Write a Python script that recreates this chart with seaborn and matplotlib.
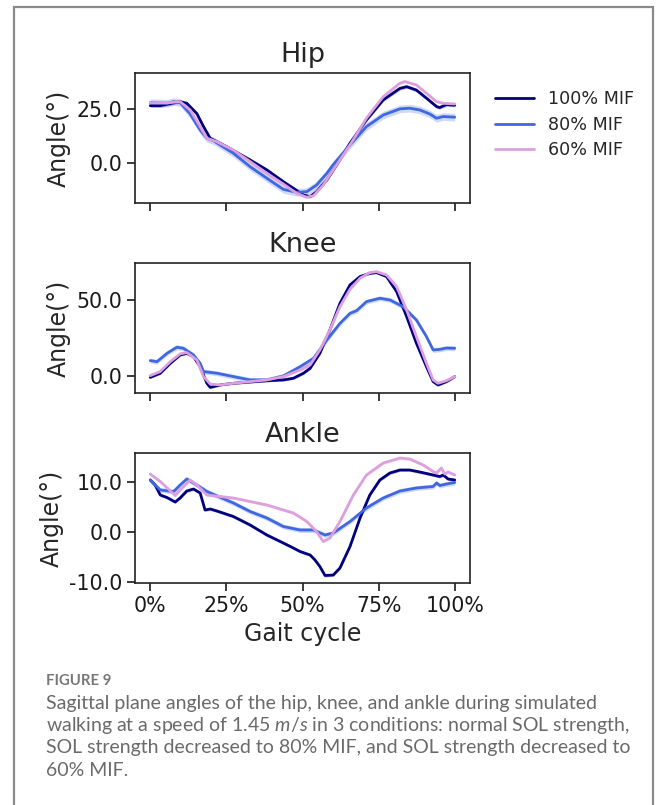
import numpy as np
import pandas as pd
import seaborn as sns
import matplotlib
matplotlib.use("Agg")
import matplotlib.pyplot as plt
from matplotlib.patches import Rectangle

# ---------------- data ----------------
conditions = ["100% MIF", "80% MIF", "60% MIF"]
joints = ["Hip", "Knee", "Ankle"]

# Hip
hip_100_x = [0, 3.3, 7.7, 9.8, 12, 15.3, 17.5, 19.7, 25.1, 32.8, 38.3, 43.7, 47, 50.3, 52.5, 54.6, 58, 61.2, 65.6, 71, 76.5, 82, 84.2, 87.4, 90.7, 94, 95, 97.3, 100]
hip_100_y = [26.7, 26.7, 28, 28.6, 27.8, 23, 16.9, 11.4, 7.5, 1.25, -3.4, -8.9, -12, -15.2, -15.9, -13.6, -8.1, -1.1, 9.1, 20, 29.4, 34.8, 35.6, 34, 30.2, 26.3, 25.8, 27.2, 26.9]
hip_80_x = [0, 5.5, 7.7, 9.8, 13, 16.4, 18.6, 20.8, 27.3, 32.8, 38.3, 43.7, 48.1, 51.4, 54.6, 58, 60, 65.6, 71, 76.5, 82, 85.2, 88.5, 91.8, 94, 96.2, 100]
hip_80_y = [28.1, 27.8, 28.6, 28.1, 23, 15.3, 11.4, 10.2, 4.4, -1.9, -7.3, -12.5, -13.9, -13.6, -10.5, -5, -1.1, 8.3, 16.9, 22.3, 25.2, 25.5, 24.7, 22.8, 20.8, 21.6, 21.3]
hip_60_x = [0, 5.5, 9.8, 13.1, 16.4, 18.6, 21.9, 27.3, 32.8, 38.3, 43.7, 48.1, 51.4, 53.6, 56.8, 60.1, 65.6, 71, 76.5, 82, 83.6, 87.4, 90.7, 94, 96.2, 100]
hip_60_y = [28, 28, 28.6, 24.7, 16.9, 11.4, 9.8, 5.9, 0.5, -5, -10, -14.4, -16.2, -15.5, -10.5, -3.4, 8.3, 20.8, 30.9, 37.2, 38, 36.4, 32.5, 28.6, 27.8, 27.5]

# Knee
knee_100_x = [0, 3.3, 6.6, 9.8, 12, 14.2, 16.4, 18.6, 19.7, 23, 27.3, 38.3, 43.7, 47, 50.3, 52.5, 55.7, 59, 62.3, 65.6, 68.9, 72.1, 74.3, 77.6, 80.9, 84.2, 87.4, 90.7, 92.9, 94.5, 97.3, 100]
knee_100_y = [-0.9, 1.8, 8.3, 13.8, 14.9, 12.7, 6.1, -4.8, -7.5, -5.9, -4.8, -3.1, -2.6, -1.5, 1.8, 5, 14.9, 30.3, 47.8, 59.9, 65.4, 67.5, 68, 65.4, 55.5, 39, 21.5, 6.1, -3.7, -5.9, -3.7, -0.4]
knee_80_x = [0, 2.2, 5.5, 8.7, 10.9, 14.2, 16.4, 17.5, 21.9, 27.3, 32.8, 38.3, 43.7, 49.2, 53.6, 58, 62.3, 65.6, 67.8, 71, 75.4, 78.7, 83, 87.4, 90.7, 92.9, 95.1, 97.3, 100]
knee_80_y = [10.1, 9.4, 14.9, 18.9, 18.2, 13.8, 8.3, 2.9, 1.8, -0.4, -2.6, -2.6, 0, 6.1, 11.6, 23.7, 34.6, 41.2, 43, 48.9, 51.1, 50, 45.6, 36.8, 25.9, 17.1, 17.5, 18.4, 18.2]
knee_60_x = [0, 3.3, 6.6, 9.8, 12, 15.3, 17.5, 19.7, 23, 27.3, 38.3, 43.7, 49.2, 52.5, 55.7, 59, 62.3, 65.6, 68.9, 72.1, 74.3, 77.6, 80.9, 84.2, 87.4, 90.7, 92.9, 94.5, 97.3, 100]
knee_60_y = [0.2, 2.9, 9.4, 14.5, 15.4, 10.5, -0.4, -5.3, -5.9, -4.8, -2.6, -0.4, 3.9, 7.2, 17.1, 30.3, 45.6, 57, 64.3, 68, 68.6, 66.4, 58.8, 43.4, 25.9, 8.3, -2.6, -4.8, -3.1, -0.4]

# Ankle
ankle_100_x = [0, 1.6, 3.3, 5.5, 8.2, 9.8, 12, 14.2, 16.4, 18, 19.7, 21.9, 27.3, 32.8, 38.3, 43.7, 47, 49.2, 52.5, 54.1, 55.7, 57.4, 60.1, 62.3, 65.6, 68.9, 72.1, 75.4, 78.7, 82, 85.2, 88.5, 92.9, 95.1, 96.2, 97.8, 100]
ankle_100_y = [10.3, 9.3, 7.3, 6.8, 5.9, 6.7, 8.1, 8.5, 7.7, 4.3, 4.5, 4.1, 3, 1.3, -0.7, -2.3, -3.3, -4, -4.7, -5.7, -7, -8.8, -8.7, -7.3, -3, 2.7, 7.3, 10.3, 11.7, 12.3, 12.3, 11.9, 11.3, 11, 11.3, 10.5, 10.3]
ankle_80_x = [0, 3.3, 7.7, 9.8, 12, 15.3, 18.6, 27.3, 32.8, 38.3, 43.7, 49.2, 53.6, 57.4, 60.1, 65.6, 71, 76.5, 82, 87.4, 92.9, 94, 95.1, 97.3, 100]
ankle_80_y = [10.3, 8.3, 8, 9.3, 10.5, 9.3, 8, 5.7, 4, 2.7, 1, 0.3, 0.3, -0.7, -0.3, 2, 4.7, 6.7, 8.1, 8.7, 9, 9.7, 9.2, 9.5, 9.8]
ankle_60_x = [0, 3.3, 8.2, 9.8, 13.1, 15.3, 18.6, 27.3, 38.3, 47, 51.4, 54.6, 56.8, 59, 62.3, 66.7, 71, 76.5, 82, 85.2, 89.6, 92.9, 94, 95.6, 96.7, 97.8, 100]
ankle_60_y = [11.5, 10, 7.2, 8.3, 10.3, 9.3, 7.3, 6.7, 5.3, 3.7, 2, 0, -2, -1.3, 2, 7.3, 11.3, 13.7, 14.7, 14.5, 13.3, 12, 11.7, 12.7, 11.5, 11.9, 11.3]

# half-width of the shaded band around each mean curve
band_hip = [0.8, 1.8, 0.6]
band_knee = [0.8, 1.6, 0.8]
band_ankle = [0.3, 0.5, 0.3]

x_ticks = [0, 25, 50, 75, 100]
x_ticklabels = ["0%", "25%", "50%", "75%", "100%"]
y_ticks = {"Hip": [0, 25], "Knee": [0, 50], "Ankle": [-10, 0, 10]}
y_lims = {"Hip": (-18.9, 42.0), "Knee": (-11.2, 74.3), "Ankle": (-10.3, 15.7)}

caption_title = "FIGURE 9"
caption_lines = [
    "Sagittal plane angles of the hip, knee, and ankle during simulated",
    r"walking at a speed of 1.45 $m/s$ in 3 conditions: normal SOL strength,",
    "SOL strength decreased to 80% MIF, and SOL strength decreased to",
    "60% MIF.",
]

series = {
    "Hip": [(hip_100_x, hip_100_y), (hip_80_x, hip_80_y), (hip_60_x, hip_60_y)],
    "Knee": [(knee_100_x, knee_100_y), (knee_80_x, knee_80_y), (knee_60_x, knee_60_y)],
    "Ankle": [(ankle_100_x, ankle_100_y), (ankle_80_x, ankle_80_y), (ankle_60_x, ankle_60_y)],
}
bands = {"Hip": band_hip, "Knee": band_knee, "Ankle": band_ankle}

palette = {"100% MIF": "#00007f", "80% MIF": "#3f67e0", "60% MIF": "#dd9fdd"}

# ---------------- figure ----------------
sns.set_style("ticks")
plt.rcParams["font.family"] = ["DejaVu Sans"]
plt.rcParams["mathtext.fontset"] = "custom"
plt.rcParams["mathtext.it"] = "Lato:italic"
plt.rcParams["mathtext.rm"] = "Lato"

W, H = 657, 805
fig = plt.figure(figsize=(W / 100, H / 100), dpi=100)
fig.patch.set_facecolor("white")

# grey frame
fig.patches.append(Rectangle((14 / W, -0.05), (653 - 14) / W, 1.05 - 7 / H,
                             transform=fig.transFigure, fill=False,
                             edgecolor="#8a8a8a", linewidth=1.6))

ax_left, ax_w, ax_h = 135 / W, (470 - 135) / W, 130 / H
tops = [73, 263, 453]
axes = []
for joint, top in zip(joints, tops):
    ax = fig.add_axes([ax_left, 1 - (top + 130) / H, ax_w, ax_h])
    axes.append(ax)
    rows = []
    for cond, (xs, ys) in zip(conditions, series[joint]):
        for xv, yv in zip(xs, ys):
            rows.append({"x": xv, "y": yv, "cond": cond})
    df = pd.DataFrame(rows)
    for cond, (xs, ys), bw in zip(conditions, series[joint], bands[joint]):
        ys_a = np.asarray(ys)
        ax.fill_between(xs, ys_a - bw, ys_a + bw, color=palette[cond],
                        alpha=0.25, linewidth=0)
    sns.lineplot(data=df, x="x", y="y", hue="cond", hue_order=conditions,
                 palette=palette, linewidth=2.0, ax=ax, legend=(joint == "Hip"),
                 estimator=None, sort=True)
    ax.set_title(joint, fontsize=19.5, pad=8)
    ax.set_ylabel("Angle(°)", fontsize=17)
    ax.set_xlabel("")
    ax.set_xlim(-5, 105)
    ax.set_ylim(*y_lims[joint])
    ax.set_xticks(x_ticks)
    ax.set_yticks(y_ticks[joint])
    ax.set_yticklabels([f"{v:.1f}" for v in y_ticks[joint]])
    if joint == "Ankle":
        ax.set_xticklabels(x_ticklabels)
        ax.set_xlabel("Gait cycle", fontsize=17, labelpad=5)
    else:
        ax.set_xticklabels([])
    ax.tick_params(axis="both", labelsize=14.8, length=5.5, width=1.2, colors="#1a1a1a")
    for s in ax.spines.values():
        s.set_linewidth(1.2)
        s.set_color("#222222")
    if joint == "Hip":
        leg = ax.legend(loc="upper left", bbox_to_anchor=(1.055, 0.92), frameon=False,
                        fontsize=12.6, handlelength=2.2, labelspacing=0.42,
                        borderaxespad=0, title=None)
        for ln in leg.get_lines():
            ln.set_linewidth(2.0)

# caption
fig.text(46 / W, 1 - 681 / H, caption_title, fontsize=10.7, color="#777777",
         family="Lato", fontweight="bold", va="center")
for i, line in enumerate(caption_lines):
    fig.text(46 / W, 1 - (703 + 22.4 * i) / H, line, fontsize=14.0, color="#6a6a6a",
             family="Lato", va="center")

fig.savefig("out.png", dpi=100, facecolor="white")
